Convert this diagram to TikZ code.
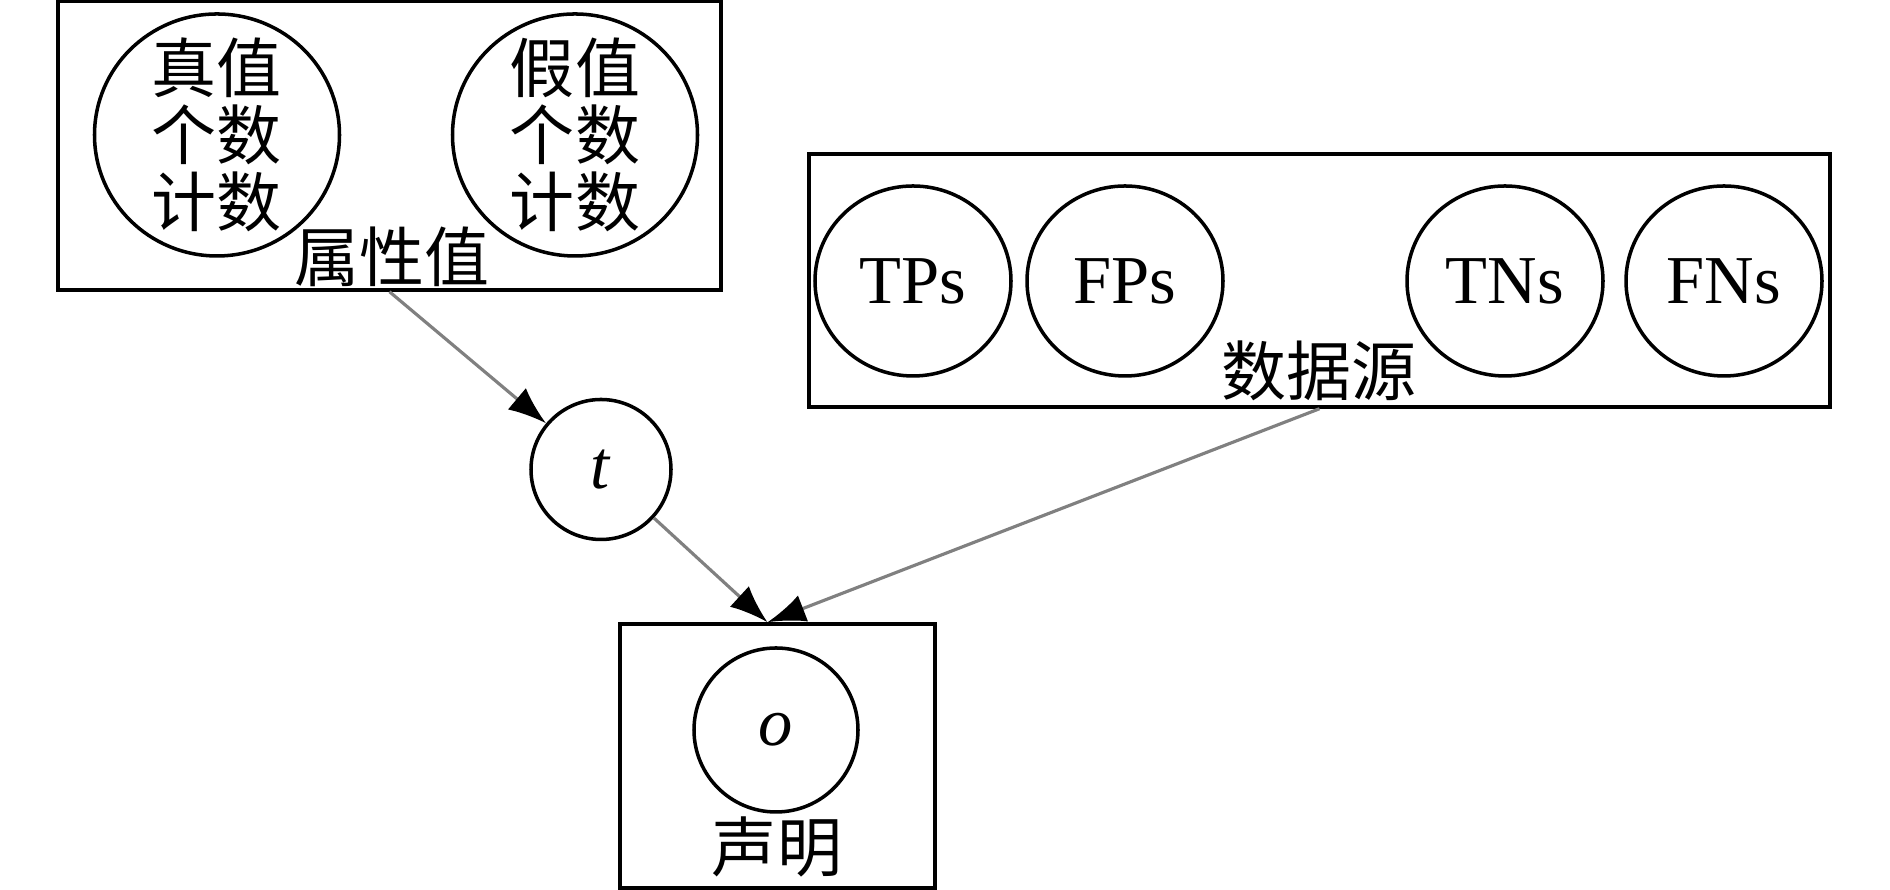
\documentclass[tikz,border=0pt]{standalone}
\usepackage{fontspec}
\setmainfont{Liberation Serif}
\newfontfamily\cjk{Noto Sans CJK SC}
\usepackage{tikz}
\usetikzlibrary{shapes.geometric, arrows.meta, positioning}

\begin{document}
\begin{tikzpicture}[
  plate/.style={draw, line width=1pt, inner sep=0pt},
  var/.style={draw, ellipse, line width=1pt, inner sep=0pt},
  zh/.style={font=\cjk\fontsize{18.5}{19}\selectfont, align=center, inner sep=0pt},
  en/.style={font=\fontsize{19.5}{19.5}\selectfont},
  count/.style={var, zh, inner ysep=-0.25cm, minimum width=2.45cm, minimum height=2.42cm},
  edge/.style={draw=black!50, line width=0.9pt, -{Latex[length=3.8mm,width=2.8mm,color=black]}}
]
  \useasboundingbox (0,0) rectangle (18.9,8.9);

  % Attribute plate
  \node[plate, minimum width=6.63cm, minimum height=2.89cm] (attr) at (3.895,7.445) {};
  \node[count] (truecnt) at (2.17,7.55) {真值\\个数\\计数};
  \node[count] (falsecnt) at (5.75,7.55) {假值\\个数\\计数};
  \node[zh] (attrlbl) at (3.92,6.33) {属性值};

  % Source plate
  \node[plate, minimum width=10.21cm, minimum height=2.53cm] (src) at (13.195,6.095) {};
  \node[var, en, minimum width=1.96cm, minimum height=1.90cm] (tps) at (9.13,6.09) {TPs};
  \node[var, en, minimum width=1.96cm, minimum height=1.90cm] (fps) at (11.25,6.09) {FPs};
  \node[var, en, minimum width=1.96cm, minimum height=1.90cm] (tns) at (15.05,6.09) {TNs};
  \node[var, en, minimum width=1.96cm, minimum height=1.90cm] (fns) at (17.24,6.09) {FNs};
  \node[zh] (srclbl) at (13.19,5.19) {数据源};

  % Truth
  \node[var, en, minimum size=1.40cm] (truth) at (6.01,4.205) {\textit{t}};

  % Claim plate
  \node[plate, minimum width=3.15cm, minimum height=2.64cm] (claim) at (7.775,1.34) {};
  \node[var, en, minimum size=1.64cm] (obs) at (7.76,1.60) {\textit{o}};
  \node[zh] (claimlbl) at (7.77,0.43) {声明};

  % Edges
  \draw[edge] (attr.south) -- (truth);
  \draw[edge] (truth) -- ([xshift=-1mm]claim.north);
  \draw[edge] (src.south) -- ([xshift=-1mm]claim.north);
\end{tikzpicture}
\end{document}
